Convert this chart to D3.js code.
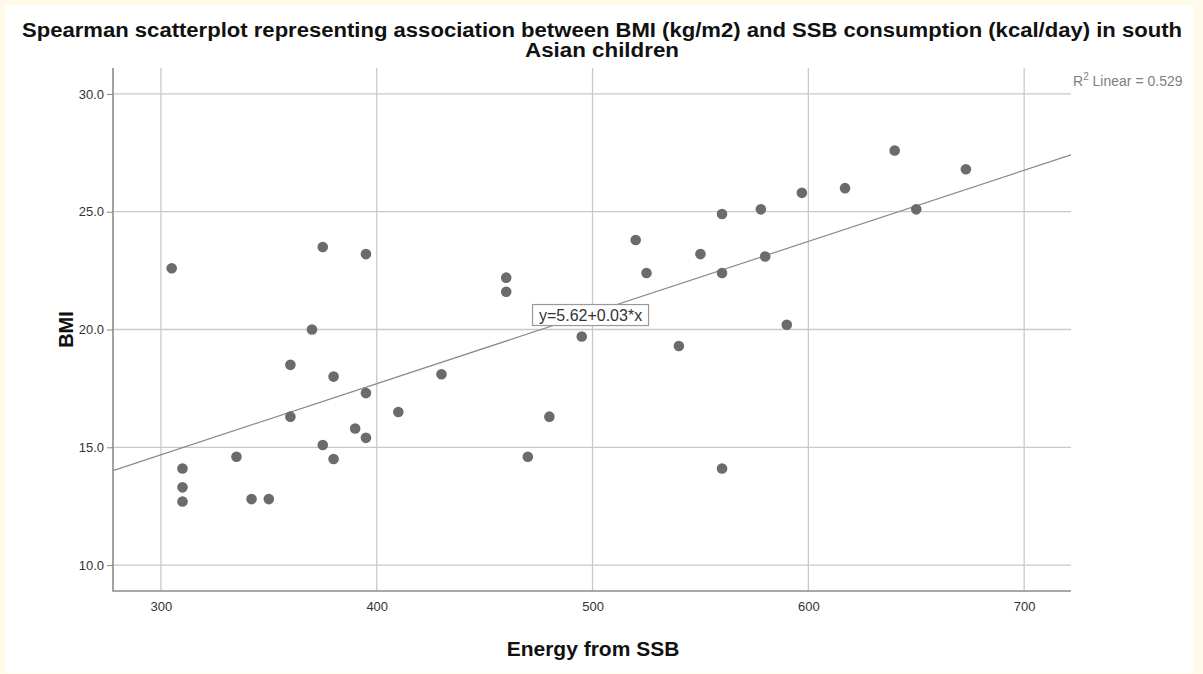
<!DOCTYPE html>
<html>
<head>
<meta charset="utf-8">
<script src="https://cdn.jsdelivr.net/npm/d3@7"></script>
<style>
  html, body { margin: 0; padding: 0; background: #fffbe8; }
  svg { display: block; }
  text { font-family: "Liberation Sans", Arial, sans-serif; }
  .chart-title { font-size: 20px; font-weight: bold; fill: #111; }
  .axis-label { font-size: 21px; font-weight: bold; fill: #111; }
  .tick text { font-size: 13px; fill: #333; }
</style>
</head>
<body>
<svg width="1203" height="674"></svg>
<script>
// Energy from SSB (kcal/day)
const energy = [
  305, 310, 310, 310, 335, 342, 350, 360, 360, 370,
  375, 375, 380, 380, 390, 395, 395, 395, 410, 430,
  460, 460, 470, 480, 495, 520, 525, 540, 550, 560,
  560, 560, 578, 580, 590, 597, 617, 640, 650, 673
]
// BMI (kg/m2)
const bmi = [
  22.6, 14.1, 13.3, 12.7, 14.6, 12.8, 12.8, 18.5, 16.3, 20.0,
  23.5, 15.1, 18.0, 14.5, 15.8, 23.2, 17.3, 15.4, 16.5, 18.1,
  22.2, 21.6, 14.6, 16.3, 19.7, 23.8, 22.4, 19.3, 23.2, 24.9,
  22.4, 14.1, 25.1, 23.1, 20.2, 25.8, 26.0, 27.6, 25.1, 26.8
]
const xTicks = [300, 400, 500, 600, 700]
const yTicks = [10, 15, 20, 25, 30]
const fitIntercept = 5.62
const fitSlope = 0.0302
const rSquared = 0.529

const data = energy.map((e, i) => ({ energy: e, bmi: bmi[i] }))

const svg = d3.select("svg")
const width = +svg.attr("width")
const height = +svg.attr("height")

// white panel inside the pale frame
svg.append("rect")
  .attr("x", 5).attr("y", 5)
  .attr("width", 1188).attr("height", 668)
  .attr("fill", "#ffffff")

const plot = { left: 113, right: 1071, top: 68, bottom: 591 }

const xScale = d3.scaleLinear()
  .domain([277.8, 721.7])
  .range([plot.left, plot.right])
const yScale = d3.scaleLinear()
  .domain([8.9, 31.1])
  .range([plot.bottom, plot.top])

const g = svg.append("g")

// grid
g.append("g")
  .selectAll("line")
  .data(xTicks)
  .join("line")
  .attr("x1", d => xScale(d)).attr("x2", d => xScale(d))
  .attr("y1", plot.top).attr("y2", plot.bottom)
  .attr("stroke", "#c9c9c9").attr("stroke-width", 1.3)
g.append("g")
  .selectAll("line")
  .data(yTicks)
  .join("line")
  .attr("x1", plot.left).attr("x2", plot.right)
  .attr("y1", d => yScale(d)).attr("y2", d => yScale(d))
  .attr("stroke", "#c9c9c9").attr("stroke-width", 1.3)

// axes
const xAxis = d3.axisBottom(xScale).tickValues(xTicks).tickSize(0).tickPadding(11)
const yAxis = d3.axisLeft(yScale).tickValues(yTicks).tickSize(6).tickPadding(3)
  .tickFormat(d3.format(".1f"))

const xAxisG = g.append("g")
  .attr("transform", `translate(0,${plot.bottom})`)
  .call(xAxis)
xAxisG.select(".domain").remove()

const yAxisG = g.append("g")
  .attr("transform", `translate(${plot.left},0)`)
  .call(yAxis)
yAxisG.select(".domain").remove()
yAxisG.selectAll(".tick line").attr("stroke", "#888").attr("x2", 0).attr("x1", -6)

g.append("path")
  .attr("d", `M${plot.left},${plot.top}V${plot.bottom}H${plot.right}`)
  .attr("fill", "none")
  .attr("stroke", "#8c8c8c")
  .attr("stroke-width", 1.6)

// fit line
const fit = (x) => fitIntercept + fitSlope * x
const fitDomain = xScale.domain()
g.append("line")
  .attr("x1", xScale(fitDomain[0])).attr("y1", yScale(fit(fitDomain[0])))
  .attr("x2", xScale(fitDomain[1])).attr("y2", yScale(fit(fitDomain[1])))
  .attr("stroke", "#8a8a8a").attr("stroke-width", 1.2)

// points
g.append("g")
  .selectAll("circle")
  .data(data)
  .join("circle")
  .attr("cx", d => xScale(d.energy))
  .attr("cy", d => yScale(d.bmi))
  .attr("r", 5.3)
  .attr("fill", "#6b6b6b")

// equation label
const eqX = xScale(500) - 2
const eqY = yScale(fit(500)) + 3
const eq = g.append("g").attr("transform", `translate(${eqX},${eqY})`)
eq.append("rect")
  .attr("x", -58).attr("y", -11)
  .attr("width", 116).attr("height", 21)
  .attr("fill", "#fff")
  .attr("stroke", "#999")
  .attr("stroke-width", 1.2)
eq.append("text")
  .attr("text-anchor", "middle")
  .attr("y", 5.5)
  .attr("font-size", 16)
  .attr("fill", "#333")
  .text(`y=${fitIntercept.toFixed(2)}+${fitSlope.toFixed(2)}*x`)

// R² label
const r2 = svg.append("text")
  .attr("x", 1073).attr("y", 86)
  .attr("font-size", 14)
  .attr("fill", "#808080")
r2.append("tspan").text("R")
r2.append("tspan").attr("dy", -6).attr("font-size", 10).text("2")
r2.append("tspan").attr("dy", 6).text(` Linear = ${rSquared}`)

// titles
svg.append("text")
  .attr("class", "chart-title")
  .attr("x", 602).attr("y", 37)
  .attr("text-anchor", "middle")
  .attr("textLength", 1160)
  .attr("lengthAdjust", "spacingAndGlyphs")
  .text("Spearman scatterplot representing association between BMI (kg/m2) and SSB consumption (kcal/day) in south")
svg.append("text")
  .attr("class", "chart-title")
  .attr("x", 602).attr("y", 57)
  .attr("text-anchor", "middle")
  .attr("textLength", 154)
  .attr("lengthAdjust", "spacingAndGlyphs")
  .text("Asian children")

svg.append("text")
  .attr("class", "axis-label")
  .attr("x", 593).attr("y", 656)
  .attr("text-anchor", "middle")
  .text("Energy from SSB")

svg.append("text")
  .attr("class", "axis-label")
  .style("font-size", "20px")
  .attr("transform", `translate(73,${(plot.top + plot.bottom) / 2}) rotate(-90)`)
  .attr("text-anchor", "middle")
  .text("BMI")
</script>
</body>
</html>
